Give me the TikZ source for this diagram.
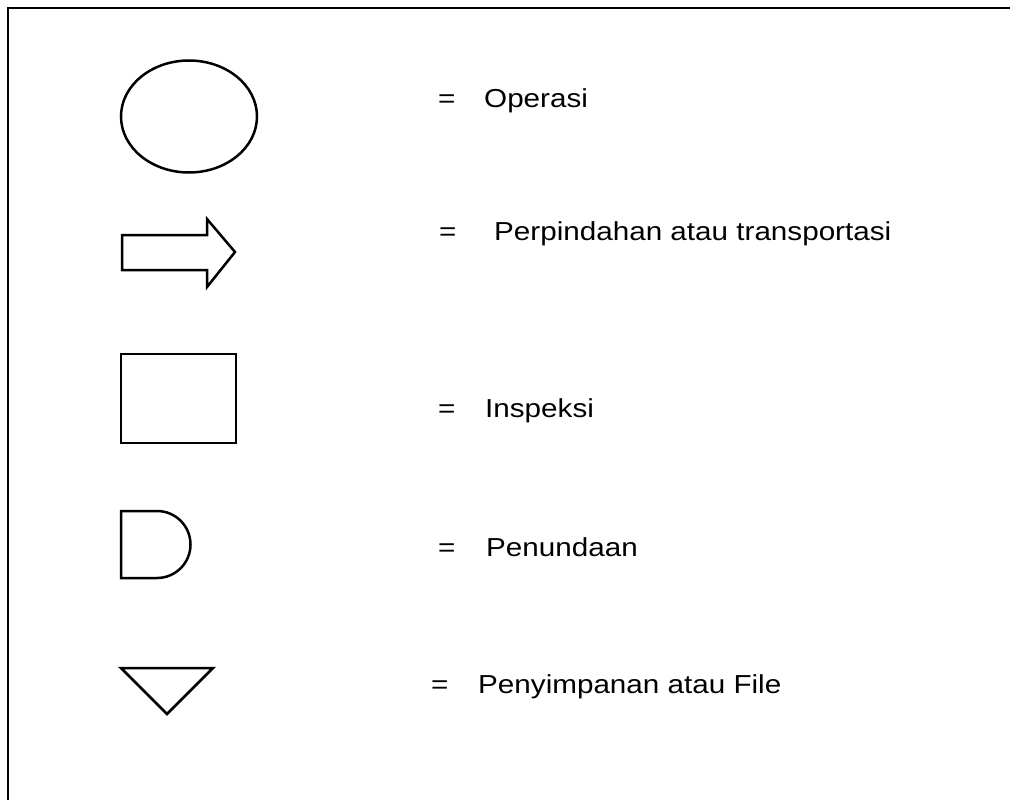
\documentclass[tikz,border=0pt]{standalone}
\usepackage{fontspec}
\newfontfamily\lab[FakeStretch=1.14]{Liberation Sans}
\begin{document}
\begin{tikzpicture}[x=1pt,y=-1pt,
  sym/.style={draw=black,line width=2.5pt,line join=miter},
  frame/.style={draw=black,line width=2.5pt},
  lbl/.style={anchor=base west,inner sep=0pt,font=\lab\fontsize{26}{30}\selectfont}]
\useasboundingbox (0,0) rectangle (1010,800);
% frame (only top and left visible)
\draw[frame] (8,800) -- (8,8) -- (1010,8);
% Operasi
\draw[sym] (189,116.5) ellipse[x radius=68,y radius=56];
\node[lbl] (eq1) at (438,107) {=};
\node[lbl] (t1) at (484,107) {Operasi};
% Transportasi
\draw[sym] (122,235) -- (207,235) -- (207,219) -- (235,252) -- (207,287) -- (207,270) -- (122,270) -- cycle;
\node[lbl] (eq2) at (439,240) {=};
\node[lbl] (t2) at (494,240) {Perpindahan atau transportasi};
% Inspeksi
\draw[sym] (121,354) rectangle (236,443);
\node[lbl] (eq3) at (438,417) {=};
\node[lbl] (t3) at (485,417) {Inspeksi};
% Penundaan
\draw[sym] (157,511) -- (121,511) -- (121,578) -- (157,578) arc[start angle=90,end angle=-90,radius=33.5] -- cycle;
\node[lbl] (eq4) at (438,556) {=};
\node[lbl] (t4) at (486,556) {Penundaan};
% Penyimpanan
\draw[sym] (121,668) -- (213,668) -- (167,714) -- cycle;
\node[lbl] (eq5) at (431,693) {=};
\node[lbl] (t5) at (478,693) {Penyimpanan atau File};
\end{tikzpicture}
\end{document}
